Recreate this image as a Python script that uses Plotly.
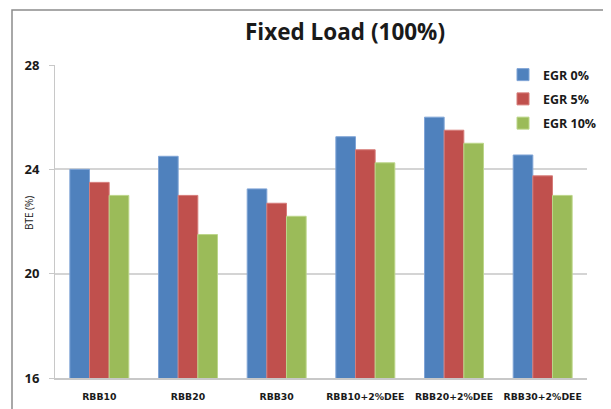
import plotly.graph_objects as go

categories = ["RBB10", "RBB20", "RBB30", "RBB10+2%DEE", "RBB20+2%DEE", "RBB30+2%DEE"]
series_names = ["EGR 0%", "EGR 5%", "EGR 10%"]
egr0 = [24.0, 24.5, 23.25, 25.25, 26.0, 24.55]
egr5 = [23.5, 23.0, 22.7, 24.75, 25.5, 23.75]
egr10 = [23.0, 21.5, 22.2, 24.25, 25.0, 23.0]
y_ticks = [16, 20, 24, 28]

colors = ["#4F81BD", "#C0504D", "#9BBB59"]
edges = ["#7FA4D6", "#D67C79", "#BCD68A"]

# page body has an 8px margin; work in screen coordinates and subtract it
O = 8
W, H = 611 - O, 409 - O
L, R, T, B = 55 - O, 24, 65 - O, 31
pw, ph = W - L - R, H - T - B

fig = go.Figure()
for i, (name, vals) in enumerate(zip(series_names, [egr0, egr5, egr10])):
    fig.add_trace(go.Bar(
        x=categories, y=vals, name=name, legendgroup=name,
        marker=dict(color=colors[i], line=dict(color=edges[i], width=1)),
    ))

def px_x(x):
    return (x - O - L) / pw

def px_y(y):
    return (H - B - (y - O)) / ph

fig.add_shape(type="rect", xref="paper", yref="paper",
              x0=px_x(12), x1=px_x(611 + 20), y0=px_y(409 + 20), y1=px_y(10),
              line=dict(color="#8c8c8c", width=1.5), fillcolor="rgba(0,0,0,0)", layer="below")

fig.add_annotation(text="BTE (%)", xref="paper", yref="paper",
                   x=px_x(29), y=px_y(213), textangle=-90, showarrow=False,
                   xanchor="center", yanchor="middle",
                   font=dict(family="Open Sans, DejaVu Sans, sans-serif", size=10, color="#1a1a1a"))

fig.update_layout(
    width=W, height=H,
    margin=dict(l=L, r=R, t=T, b=B, pad=0, autoexpand=False),
    paper_bgcolor="white", plot_bgcolor="white",
    barmode="group", bargap=0.335, bargroupgap=0,
    title=dict(text="<b>Fixed Load (100%)</b>", x=(345 - O) / W, xanchor="center",
               y=1 - (32 - O) / H, yanchor="middle",
               font=dict(family="Open Sans, DejaVu Sans, sans-serif", size=22.5, color="#1a1a1a")),
    legend=dict(xref="container", yref="container",
                x=(503 - O) / W, y=1 - (60 - O) / H, xanchor="left", yanchor="top",
                bgcolor="rgba(0,0,0,0)", tracegroupgap=5,
                font=dict(family="Open Sans, DejaVu Sans, sans-serif", size=12.5, color="#1a1a1a", weight="bold"),
                itemwidth=30, traceorder="grouped"),
    showlegend=True,
    font=dict(family="DejaVu Sans, sans-serif", color="#1a1a1a"),
)

fig.update_xaxes(
    type="category", showline=True, linecolor="#c8c8c8", linewidth=1.5,
    ticks="outside", ticklen=9, tickcolor="rgba(0,0,0,0)",
    tickfont=dict(family="DejaVu Sans, sans-serif", size=9.3, color="#1a1a1a", weight="bold"),
    showgrid=False,
)
fig.update_yaxes(
    range=[16, 28], tickvals=y_ticks,
    showline=True, linecolor="#c8c8c8", linewidth=1,
    ticks="outside", ticklen=5, tickcolor="#c8c8c8", ticklabelstandoff=7,
    tickfont=dict(family="Open Sans, DejaVu Sans, sans-serif", size=13, color="#1a1a1a", weight="bold"),
    showgrid=True, gridcolor="#d4d4d4", gridwidth=1.5, zeroline=False,
)

fig.write_html("out.html")
